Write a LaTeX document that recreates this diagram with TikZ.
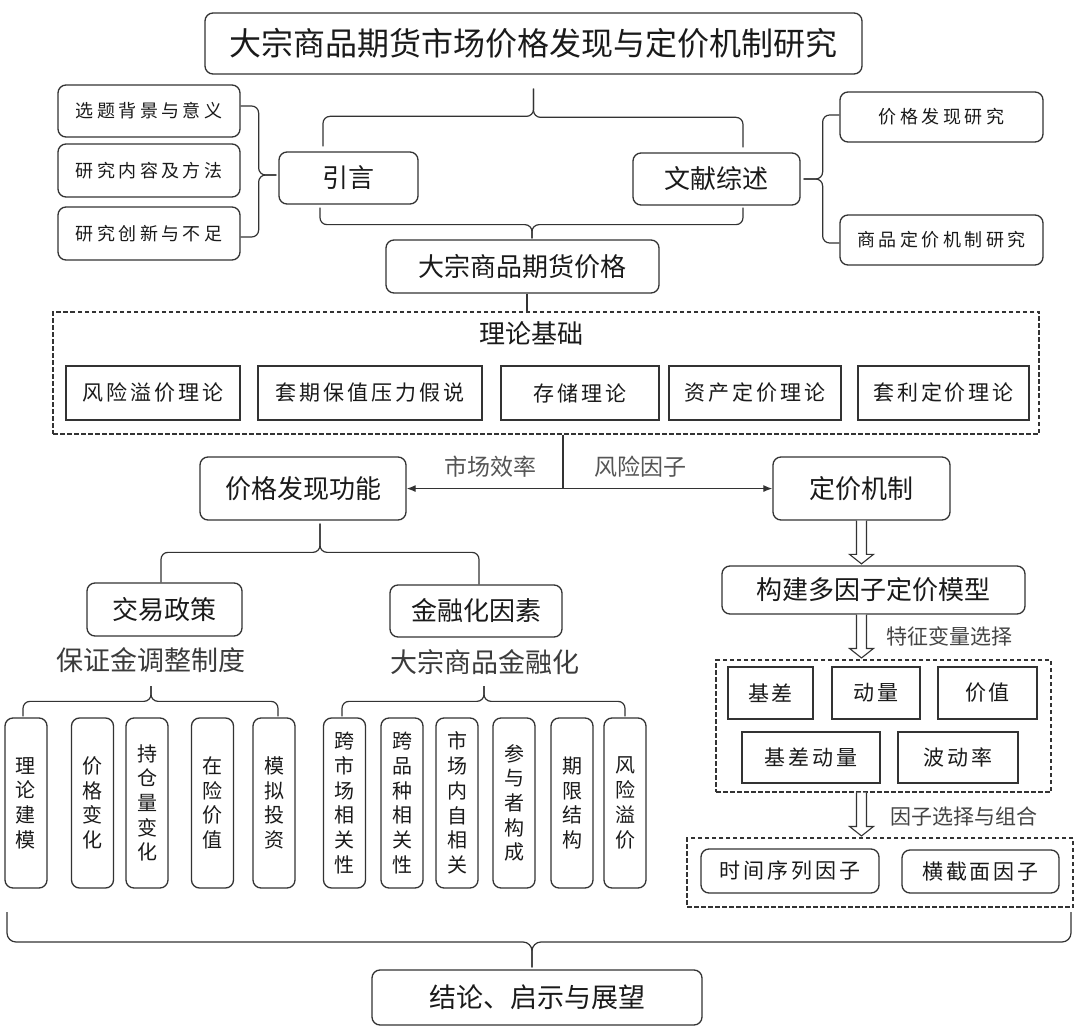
\documentclass[tikz,border=0pt]{standalone}
\usepackage{fontspec}
\setmainfont{Noto Sans CJK SC}
\newfontfamily\cjkls[LetterSpace=19]{Noto Sans CJK SC}
\newfontfamily\cjkmd[LetterSpace=14]{Noto Sans CJK SC}
\usetikzlibrary{arrows.meta,calc}
\definecolor{linec}{HTML}{333333}
\definecolor{txt}{HTML}{1A1A1A}
\definecolor{lab}{HTML}{555555}
\newcommand\blockarr[3]{%
  \draw[blockarrow] ($(#3.south |- #1.south)+(-5,0)$) -- ($(#3.south |- #2.north)+(-5,-11)$) -- ($(#3.south |- #2.north)+(-12,-11)$) -- ($(#3.south |- #2.north)+(0,-1.5)$) -- ($(#3.south |- #2.north)+(12,-11)$) -- ($(#3.south |- #2.north)+(5,-11)$) -- ($(#3.south |- #1.south)+(5,0)$);%
}
\begin{document}
\begin{tikzpicture}[x=1pt,y=-1pt,
  every node/.style={text=txt},
  rbox/.style={draw=linec, line width=1.3pt, rounded corners=8pt, inner sep=0pt, align=center},
  sbox/.style={draw=linec, line width=1.3pt, inner sep=0pt, align=center},
  dbox/.style={draw=linec, line width=1.1pt, dash pattern=on 4.5pt off 2.5pt, inner sep=0pt},
  wh/.style 2 args={minimum width=#1, minimum height=#2},
  fbig/.style={font=\fontsize{26}{30}\selectfont},
  ftitle/.style={font=\fontsize{32}{36}\selectfont},
  fsmall/.style={font=\cjkls\fontsize{18}{22}\selectfont},
  fmid/.style={font=\cjkmd\fontsize{21}{25}\selectfont},
  fvert/.style={font=\fontsize{20}{24.7}\selectfont},
  flab/.style={font=\fontsize{23}{26}\selectfont, text=lab},
  fsub/.style={font=\fontsize{27}{30}\selectfont, text=lab!70!black},
  fstep/.style={font=\fontsize{21}{25}\selectfont, text=lab!80!black},
  conn/.style={draw=linec, line width=1.2pt, rounded corners=7pt},
  plain/.style={draw=linec, line width=1.2pt},
  harrow/.style={draw=linec, line width=1.2pt, -{Latex[length=9pt,width=7pt]}},
  blockarrow/.style={draw=linec, line width=1.1pt, fill=white, line join=miter}
]
\useasboundingbox[fill=white] (0,0) rectangle (1080,1035);

% title
\node[rbox, ftitle, wh={657}{61}] (title) at (533.5,43.5) {大宗商品期货市场价格发现与定价机制研究};

% left small boxes
\node[rbox, fsmall, wh={182}{52}] (a1) at (149,111) {选题背景与意义};
\node[rbox, fsmall, wh={182}{53}] (a2) at (149,170.5) {研究内容及方法};
\node[rbox, fsmall, wh={182}{53}] (a3) at (149,233.5) {研究创新与不足};

\node[rbox, fbig, wh={139}{52}] (yy) at (348.5,178) {引言};
\node[rbox, fbig, wh={167}{52}] (wx) at (716.5,179) {文献综述};

\node[rbox, fsmall, wh={203}{50}] (p1) at (941.5,117) {价格发现研究};
\node[rbox, fsmall, wh={203}{50}] (p2) at (941.5,240) {商品定价机制研究};

\node[rbox, fbig, wh={273}{53}] (dz) at (522.5,266.5) {大宗商品期货价格};

% braces top
\draw[conn] ([xshift=-25.5pt,yshift=5pt]yy.north) -- ++(0,-30) -| ([yshift=-14pt]title.south);
\draw[conn] ([xshift=26.5pt,yshift=5pt]wx.north) -- ++(0,-30) -| ([yshift=-14pt]title.south);
\draw[conn] ([xshift=-28.5pt,yshift=-3pt]yy.south) -- ++(0,17) -| ([xshift=9.5pt,yshift=1pt]dz.north);
\draw[conn] ([xshift=26.5pt,yshift=-2pt]wx.south) -- ++(0,17) -| ([xshift=9.5pt,yshift=1pt]dz.north);
% left brace
\draw[conn] ([yshift=5pt]a1.east) -- ++(18,0) |- ([xshift=-2pt,yshift=3pt]yy.west);
\draw[conn] ([yshift=-3.5pt]a3.east) -- ++(18,0) |- ([xshift=-2pt,yshift=3pt]yy.west);
% right brace
\draw[conn] ([xshift=3pt]wx.east) -- ++(19,0) |- ([yshift=2pt]p1.west);
\draw[conn] ([xshift=3pt]wx.east) -- ++(19,0) |- ([yshift=-3pt]p2.west);

% theory base
\node[dbox, wh={986}{122}] (base) at (546,373) {};
\node[fbig] (llj) at (531,333) {理论基础};
\node[sbox, fmid, wh={174}{54}] (t1) at (153,393) {风险溢价理论};
\node[sbox, fmid, wh={224}{54}] (t2) at (370,393) {套期保值压力假说};
\node[sbox, fmid, wh={158}{54}] (t3) at (580,393) {存储理论};
\node[sbox, fmid, wh={172}{54}] (t4) at (755,393) {资产定价理论};
\node[sbox, fmid, wh={171}{54}] (t5) at (943.5,393) {套利定价理论};
\draw[plain] ([xshift=4.5pt]dz.south) -- ++(0,19);

% price discovery / pricing mechanism
\node[rbox, fbig, wh={206}{63}] (jg) at (303,488.5) {价格发现功能};
\node[rbox, fbig, wh={177}{63}] (dj) at (861.5,488.5) {定价机制};
\draw[plain] ([xshift=17pt]base.south) -- ++(0,54) coordinate (hj);
\draw[harrow] (hj) -- (hj -| jg.east);
\draw[harrow] (hj) -- (hj -| dj.west);
\node[flab] (lb1) at (490,467) {市场效率};
\node[flab] (lb2) at (640,467) {风险因子};

% left lower part
\node[rbox, fbig, wh={155}{53}] (jy) at (164.5,609.5) {交易政策};
\node[rbox, fbig, wh={172}{52}] (jr) at (476,611) {金融化因素};
\draw[conn] ([xshift=-3.5pt]jy.north) -- ++(0,-30) -| ([xshift=17pt,yshift=-3pt]jg.south);
\draw[conn] ([xshift=3pt]jr.north) -- ++(0,-32) -| ([xshift=17pt,yshift=-3pt]jg.south);
\node[fsub] (bzj) at (151,660) {保证金调整制度};
\node[fsub] (dzj) at (485,662) {大宗商品金融化};

\foreach \nm/\cx/\tx in {v1/26/理\\论\\建\\模, v2/92.5/价\\格\\变\\化, v3/147/持\\仓\\量\\变\\化, v4/212.5/在\\险\\价\\值, v5/274/模\\拟\\投\\资, v6/344.5/跨\\市\\场\\相\\关\\性, v7/402/跨\\品\\种\\相\\关\\性, v8/457/市\\场\\内\\自\\相\\关, v9/514/参\\与\\者\\构\\成, v10/572/期\\限\\结\\构, v11/625/风\\险\\溢\\价}{
  \node[rbox, fvert, wh={42}{170}] (\nm) at (\cx,803) {\tx};
}
\draw[conn] ([xshift=-3pt,yshift=1pt]v1.north) -- ++(0,-15) -| ([yshift=-26pt]bzj.center);
\draw[conn] ([xshift=4pt,yshift=1pt]v5.north) -- ++(0,-15) -| ([yshift=-26pt]bzj.center);
\draw[conn] ([xshift=-2.5pt,yshift=1pt]v6.north) -- ++(0,-15) -| ([xshift=-1pt,yshift=-24pt]dzj.center);
\draw[conn] ([yshift=1pt]v11.north) -- ++(0,-15) -| ([xshift=-1pt,yshift=-24pt]dzj.center);

% right lower part
\node[rbox, fbig, wh={303}{48}] (mx) at (873.5,590) {构建多因子定价模型};
\node[dbox, wh={335}{132}] (fb) at (883.5,726) {};
\node[sbox, fmid, wh={85}{52}] (f1) at (770.5,693) {基差};
\node[sbox, fmid, wh={88}{52}] (f2) at (876,693) {动量};
\node[sbox, fmid, wh={99}{52}] (f3) at (987.5,693) {价值};
\node[sbox, fmid, wh={138}{51}] (f4) at (811,757.5) {基差动量};
\node[sbox, fmid, wh={120}{51}] (f5) at (958,757.5) {波动率};
\node[dbox, wh={386}{69}] (fc) at (880,872.5) {};
\node[rbox, fmid, wh={178}{44}] (g1) at (790,871) {时间序列因子};
\node[rbox, fmid, wh={157}{43}] (g2) at (980.5,871.5) {横截面因子};
\node[fstep] (s1) at (949,636) {特征变量选择};
\node[fstep] (s2) at (964,817) {因子选择与组合};

\blockarr{dj}{mx}{dj}
\blockarr{mx}{fb}{dj}
\blockarr{fb}{fc}{dj}

% conclusion
\node[rbox, fbig, font=\fontsize{27}{30}\selectfont, wh={330}{55}] (jl) at (537,997.5) {结论、启示与展望};
\coordinate (bl) at (7,912);
\coordinate (br) at (1071,912);
\draw[conn, rounded corners=9pt] (bl) -- ++(0,30) -| ([xshift=-5pt,yshift=2pt]jl.north);
\draw[conn, rounded corners=9pt] (br) -- ++(0,30) -| ([xshift=-5pt,yshift=2pt]jl.north);
\end{tikzpicture}
\end{document}
